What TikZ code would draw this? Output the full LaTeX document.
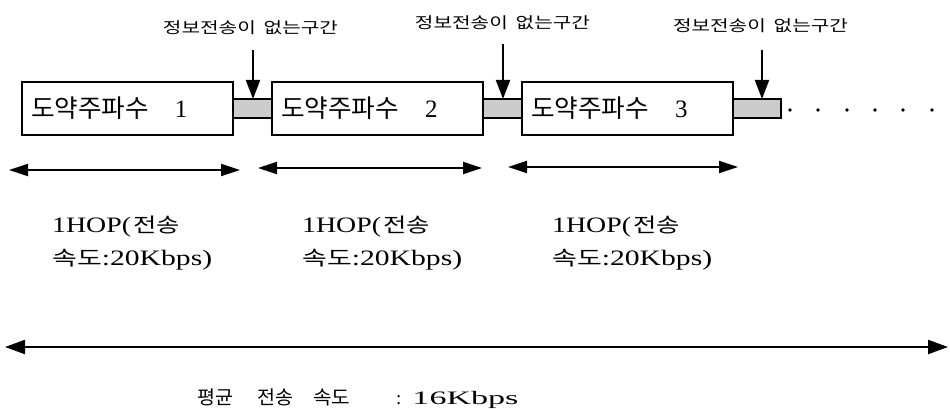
\documentclass[tikz,border=0pt]{standalone}
\usepackage{fontspec}
\usepackage{graphicx}
\setmainfont{Liberation Serif}
\newfontfamily\kr{Noto Sans CJK KR}
\usetikzlibrary{arrows.meta}
\newcommand{\wbox}[2]{\resizebox{#1}{\height}{#2}}
\tikzset{
  hopbox/.style={draw, line width=2.6pt, outer sep=0pt, minimum height=53pt, text width=193pt, inner xsep=9pt, align=left, anchor=west, font=\fontsize{25}{27}\selectfont},
  gapbox/.style={draw, line width=2.4pt, outer sep=0pt, fill=gray!40, minimum width=39pt, minimum height=19pt, anchor=west, inner sep=0pt},
  downarr/.style={line width=2pt, -{Triangle[length=19pt,width=14pt]}},
  span/.style={line width=2.2pt, {Triangle[length=19pt,width=12pt]}-{Triangle[length=19pt,width=12pt]}},
  toplbl/.style={font=\kr\fontsize{15.5}{17}\selectfont, inner sep=0pt},
  hoplbl/.style={anchor=base west, inner sep=0pt, font=\fontsize{22}{24}\selectfont},
  dotn/.style={circle, fill=black, inner sep=0pt, minimum size=3.8pt}
}
\begin{document}
\begin{tikzpicture}[x=1pt,y=-1pt]
\useasboundingbox (0,0) rectangle (950,409);
% boxes and gaps
\node[hopbox] (b1) at (22,108.5) {\wbox{118pt}{\kr 도약주파수}\hspace{26pt}1};
\node[gapbox] (g1) at (b1.east) {};
\node[hopbox] (b2) at (g1.east) {\wbox{118pt}{\kr 도약주파수}\hspace{26pt}2};
\node[gapbox] (g2) at (b2.east) {};
\node[hopbox] (b3) at (g2.east) {\wbox{118pt}{\kr 도약주파수}\hspace{26pt}3};
\node[gapbox, minimum width=48pt] (g3) at (b3.east) {};
% dots
\foreach \i/\x in {1/790,2/818,3/847,4/875,5/903,6/932}
  \node[dotn] (d\i) at (\x,110) {};
% top labels and arrows
\node[toplbl] (t1) at (250.5,27.5) {\wbox{175pt}{정보전송이\hspace{6pt}없는구간}};
\node[toplbl] (t2) at (502.5,23) {\wbox{175pt}{정보전송이\hspace{6pt}없는구간}};
\node[toplbl] (t3) at (760.5,25.5) {\wbox{175pt}{정보전송이\hspace{6pt}없는구간}};
\coordinate (a1) at (253,50);
\coordinate (a2) at (503,44);
\coordinate (a3) at (762,50);
\draw[downarr] (a1) -- (a1 |- g1.north);
\draw[downarr] (a2) -- (a2 |- g2.north);
\draw[downarr] (a3) -- (a3 |- g3.north);
% hop spans
\coordinate (h1l) at (9,170); \coordinate (h1r) at (240,170);
\coordinate (h2l) at (258,168); \coordinate (h2r) at (482,168);
\coordinate (h3l) at (508,167); \coordinate (h3r) at (738,167);
\draw[span] (h1l) -- (h1r);
\draw[span] (h2l) -- (h2r);
\draw[span] (h3l) -- (h3r);
% hop labels
\foreach \n/\x in {1/52,2/302,3/552}{
  \node[hoplbl] (l\n a) at (\x,232) {\wbox{128pt}{1HOP(\hspace{2pt}{\kr\fontsize{20}{24}\selectfont 전송}}};
  \node[hoplbl] (l\n b) at (\x,265) {\wbox{160pt}{{\kr\fontsize{20}{24}\selectfont 속도}:20Kbps)}};
}
% average
\coordinate (ml) at (5,347); \coordinate (mr) at (948,347);
\draw[span, {Triangle[length=20pt,width=14pt]}-{Triangle[length=20pt,width=14pt]}] (ml) -- (mr);
\node[anchor=base west, font=\fontsize{19}{21}\selectfont, inner sep=0pt] (avg) at (197,404) {\wbox{36pt}{\kr 평균}\hspace{24pt}\wbox{36pt}{\kr 전송}\hspace{20pt}\wbox{37pt}{\kr 속도}\hspace{46pt}:\hspace{11pt}\wbox{106pt}{16Kbps}};
\end{tikzpicture}
\end{document}
